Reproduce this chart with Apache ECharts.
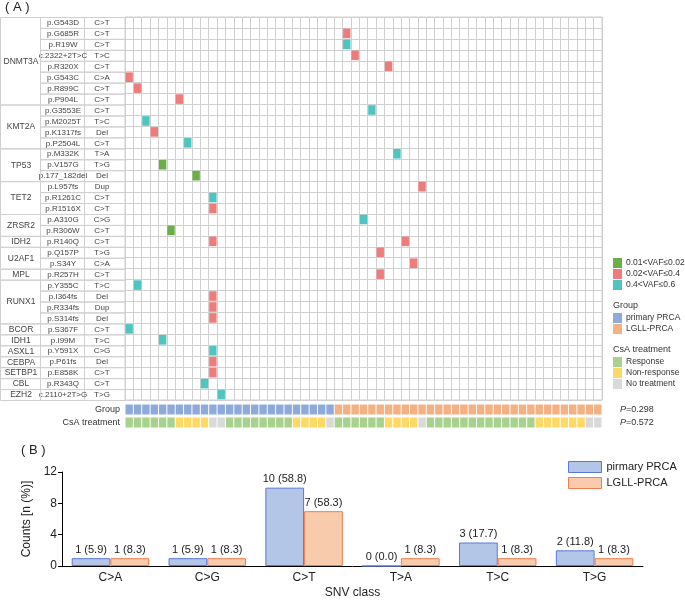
<!DOCTYPE html>
<html>
<head>
<meta charset="utf-8">
<script src="https://cdn.jsdelivr.net/npm/echarts@6/dist/echarts.min.js"></script>
<style>
  html, body { margin: 0; padding: 0; background: #fff; }
  #chart { width: 685px; height: 600px; }
</style>
</head>
<body>
<div id="chart"></div>
<script>
// ---- data ----
const genes = [["DNMT3A", 8], ["KMT2A", 4], ["TP53", 3], ["TET2", 3], ["ZRSR2", 2], ["IDH2", 1], ["U2AF1", 2], ["MPL", 1],
  ["RUNX1", 4], ["BCOR", 1], ["IDH1", 1], ["ASXL1", 1], ["CEBPA", 1], ["SETBP1", 1], ["CBL", 1], ["EZH2", 1]];
const mutations = ["p.G543D", "p.G685R", "p.R19W", "c.2322+2T>C", "p.R320X", "p.G543C", "p.R899C", "p.P904L",
  "p.G3553E", "p.M2025T", "p.K1317fs", "p.P2504L", "p.M332K", "p.V157G", "p.177_182del", "p.L957fs", "p.R1261C",
  "p.R1516X", "p.A310G", "p.R306W", "p.R140Q", "p.Q157P", "p.S34Y", "p.R257H", "p.Y355C", "p.I364fs", "p.R334fs",
  "p.S314fs", "p.S367F", "p.I99M", "p.Y591X", "p.P61fs", "p.E858K", "p.R343Q", "c.2110+2T>G"];
const mutTypes = ["C>T", "C>T", "C>T", "T>C", "C>T", "C>A", "C>T", "C>T", "C>T", "T>C", "Del", "C>T", "T>A", "T>G",
  "Del", "Dup", "C>T", "C>T", "C>G", "C>T", "C>T", "T>G", "C>A", "C>T", "T>C", "Del", "Dup", "Del", "C>T", "T>C",
  "C>G", "Del", "C>T", "C>T", "T>G"];
const patientCount = 57;

const vafLevels = ["0.01<VAF≤0.02", "0.02<VAF≤0.4", "0.4<VAF≤0.6"];
// [patient column, mutation row]
const lowVaf = [[4, 13], [8, 14], [5, 19]];
const midVaf = [[26, 1], [27, 3], [31, 4], [0, 5], [1, 6], [6, 7], [3, 10], [35, 15], [10, 17], [10, 20], [33, 20],
  [30, 21], [34, 22], [30, 23], [10, 25], [10, 26], [10, 27], [10, 31], [10, 32]];
const highVaf = [[26, 2], [29, 8], [2, 9], [7, 11], [32, 12], [10, 16], [28, 18], [1, 24], [0, 28], [4, 29],
  [10, 30], [9, 33], [11, 34]];

const groupNames = ["primary PRCA", "LGLL-PRCA"];
const groupRuns = [["primary PRCA", 25], ["LGLL-PRCA", 32]];
const csaNames = ["Response", "Non-response", "No treatment"];
const csaRuns = [["Response", 6], ["Non-response", 4], ["No treatment", 2], ["Response", 8], ["Non-response", 4],
  ["No treatment", 1], ["Response", 6], ["Non-response", 4], ["No treatment", 1], ["Response", 13],
  ["Non-response", 6], ["No treatment", 2]];
const stripRows = ["Group", "CsA treatment"];
const pValues = ["0.298", "0.572"];

const snvClasses = ["C>A", "C>G", "C>T", "T>A", "T>C", "T>G"];
const primaryCounts = [1, 1, 10, 0, 3, 2];
const primaryPct = ["5.9", "5.9", "58.8", "0.0", "17.7", "11.8"];
const lgllCounts = [1, 1, 7, 1, 1, 1];
const lgllPct = ["8.3", "8.3", "58.3", "8.3", "8.3", "8.3"];

// ---- helpers ----
const FONT = "Liberation Sans, Arial, sans-serif";
const patients = Array.from({ length: patientCount }, (_, i) => String(i + 1));
const rowIdx = mutations.map((_, i) => String(i));
const vafColors = ["#6aae45", "#f07b7b", "#4ec5c1"];
const groupColors = { "primary PRCA": "#8eaadb", "LGLL-PRCA": "#f4b183" };
const csaColors = { "Response": "#a9d18e", "Non-response": "#ffd966", "No treatment": "#d9d9d9" };
const primaryStyle = { color: "#b4c6e7", borderColor: "#5a78d6", borderWidth: 1 };
const lgllStyle = { color: "#f8cbad", borderColor: "#f07f4f", borderWidth: 1 };

function expandRuns(runs, row) {
  const out = {};
  let c = 0;
  runs.forEach(([name, n]) => {
    out[name] = out[name] || [];
    for (let k = 0; k < n; k++) out[name].push([c++, row]);
  });
  return out;
}
const groupCells = expandRuns(groupRuns, 0);
const csaCells = expandRuns(csaRuns, 1);

const geneStarts = [];
genes.reduce((s, g) => { geneStarts.push(s); return s + g[1]; }, 0);

const TABLE_W = 125, GENE_END = 40, MUT_END = 84;
const LINE = "#d0d0d0";

const cellSeries = (name, data, color) => ({
  name, type: "scatter", xAxisIndex: 0, yAxisIndex: 0, data,
  symbol: "rect", symbolSize: [7.4, 9.6], itemStyle: { color, opacity: 1 },
  emphasis: { disabled: true }, z: 5
});
const stripSeries = (name, data, color) => ({
  name, type: "scatter", xAxisIndex: 1, yAxisIndex: 1, data,
  symbol: "rect", symbolSize: [7.4, 10], itemStyle: { color, opacity: 1 },
  emphasis: { disabled: true }
});
const sideLegend = (data, top) => ({
  data, left: 613, top, orient: "vertical", icon: "rect", itemWidth: 9, itemHeight: 10,
  itemGap: 1, padding: 0, selectedMode: false,
  textStyle: { fontSize: 8.5, color: "#333", lineHeight: 10, padding: [0, 0, 0, -1] }
});

const myChart = echarts.init(document.querySelector("#chart"));
myChart.setOption({
  animation: false,
  textStyle: { fontFamily: FONT },
  grid: [
    { left: 125, top: 17, width: 477, height: 383, show: true, borderColor: LINE, borderWidth: 1 },
    { left: 125, top: 403, width: 477, height: 26 },
    { left: 0, top: 17, width: TABLE_W, height: 383 },
    { left: 62, top: 472, width: 581, height: 95 }
  ],
  xAxis: [
    { type: "category", gridIndex: 0, data: patients, axisLine: { show: false }, axisTick: { show: false },
      axisLabel: { show: false }, splitLine: { show: true, interval: 0, lineStyle: { color: LINE, width: 1 } } },
    { type: "category", gridIndex: 1, data: patients, show: false },
    { type: "value", gridIndex: 2, min: 0, max: TABLE_W, show: false },
    { type: "category", gridIndex: 3, data: snvClasses,
      axisLine: { lineStyle: { color: "#000", width: 1 } }, axisTick: { show: false },
      axisLabel: { color: "#222", fontSize: 12, margin: 6 },
      name: "SNV class", nameLocation: "middle", nameGap: 21, nameTextStyle: { color: "#222", fontSize: 12 } }
  ],
  yAxis: [
    { type: "category", gridIndex: 0, data: rowIdx, inverse: true, axisLine: { show: false },
      axisTick: { show: false }, axisLabel: { show: false },
      splitLine: { show: true, interval: 0, lineStyle: { color: LINE, width: 1 } } },
    { type: "category", gridIndex: 1, data: stripRows, inverse: true, axisLine: { show: false },
      axisTick: { show: false }, axisLabel: { color: "#333", fontSize: 9, margin: 5 } },
    { type: "category", gridIndex: 1, data: pValues, inverse: true, position: "right", axisLine: { show: false },
      axisTick: { show: false },
      axisLabel: { margin: 18, fontSize: 9, color: "#333", formatter: v => "{i|P}=" + v,
        rich: { i: { fontStyle: "italic", fontSize: 9, color: "#333" } } } },
    { type: "value", gridIndex: 2, min: 0, max: mutations.length, inverse: true, show: false },
    { type: "value", gridIndex: 3, min: 0, max: 12, interval: 4,
      axisLine: { show: true, lineStyle: { color: "#000", width: 1 } },
      axisTick: { show: true, length: 4, lineStyle: { color: "#000" } },
      axisLabel: { color: "#222", fontSize: 12, margin: 5 }, splitLine: { show: false },
      name: "Counts [n (%)]", nameLocation: "middle", nameGap: 22, nameTextStyle: { color: "#222", fontSize: 12 } }
  ],
  legend: [
    sideLegend(vafLevels, 258),
    sideLegend(groupNames, 313),
    sideLegend(csaNames, 357),
    { data: [{ name: "pirmary PRCA", itemStyle: primaryStyle }, { name: "LGLL-PRCA", itemStyle: lgllStyle }],
      left: 568, top: 461, orient: "vertical", icon: "rect",
      itemWidth: 33, itemHeight: 11, itemGap: 4, padding: 0, selectedMode: false,
      textStyle: { fontSize: 11, color: "#222" } }
  ],
  graphic: [
    { type: "text", left: 5, top: 1, style: { text: "( A )", fill: "#222", font: "13px " + FONT } },
    { type: "text", left: 21, top: 444, style: { text: "( B )", fill: "#222", font: "13px " + FONT } },
    { type: "text", left: 613, top: 301, style: { text: "Group", fill: "#333", font: "9px " + FONT } },
    { type: "text", left: 613, top: 345, style: { text: "CsA treatment", fill: "#333", font: "9px " + FONT } }
  ],
  series: [
    cellSeries(vafLevels[0], lowVaf, vafColors[0]),
    cellSeries(vafLevels[1], midVaf, vafColors[1]),
    cellSeries(vafLevels[2], highVaf, vafColors[2]),
    ...groupNames.map(g => stripSeries(g, groupCells[g], groupColors[g])),
    ...csaNames.map(c => stripSeries(c, csaCells[c], csaColors[c])),
    {
      type: "custom", xAxisIndex: 2, yAxisIndex: 3, silent: true,
      data: mutations.map((_, i) => [i]),
      renderItem: (params, api) => {
        const i = params.dataIndex;
        const a = api.coord([GENE_END, i]), m = api.coord([MUT_END, i + 1]), b = api.coord([TABLE_W, i + 1]);
        const y0 = a[1], y1 = m[1];
        const rs = { fill: "none", stroke: LINE, lineWidth: 1 };
        const ts = { fill: "#444", font: "8px " + FONT, align: "center", verticalAlign: "middle" };
        return { type: "group", children: [
          { type: "rect", shape: { x: a[0] + 0.5, y: y0 + 0.5, width: m[0] - a[0], height: y1 - y0 }, style: rs },
          { type: "rect", shape: { x: m[0] + 0.5, y: y0 + 0.5, width: b[0] - m[0], height: y1 - y0 }, style: rs },
          { type: "text", style: Object.assign({ text: mutations[i], x: (a[0] + m[0]) / 2 + 1, y: (y0 + y1) / 2 + 0.5 }, ts) },
          { type: "text", style: Object.assign({ text: mutTypes[i], x: m[0] + 18, y: (y0 + y1) / 2 + 0.5 }, ts) }
        ] };
      }
    },
    {
      type: "custom", xAxisIndex: 2, yAxisIndex: 3, silent: true,
      data: genes.map((_, i) => [i]),
      renderItem: (params, api) => {
        const i = params.dataIndex, s = geneStarts[i], n = genes[i][1];
        const a = api.coord([0, s]), b = api.coord([GENE_END, s + n]);
        return { type: "group", children: [
          { type: "rect", shape: { x: a[0] + 0.5, y: a[1] + 0.5, width: b[0] - a[0], height: b[1] - a[1] },
            style: { fill: "none", stroke: LINE, lineWidth: 1 } },
          { type: "text", style: { text: genes[i][0], x: (a[0] + b[0]) / 2 + 1, y: (a[1] + b[1]) / 2 + 0.5,
            fill: "#444", font: "8.5px " + FONT, align: "center", verticalAlign: "middle" } }
        ] };
      }
    },
    {
      name: "pirmary PRCA", type: "bar", xAxisIndex: 3, yAxisIndex: 4, data: primaryCounts,
      barWidth: "40%", barGap: "0%", itemStyle: primaryStyle,
      label: { show: true, position: "top", distance: 3, fontSize: 11, color: "#222",
        formatter: p => primaryCounts[p.dataIndex] + " (" + primaryPct[p.dataIndex] + ")" }
    },
    {
      name: "LGLL-PRCA", type: "bar", xAxisIndex: 3, yAxisIndex: 4, data: lgllCounts,
      barWidth: "40%", barGap: "0%", itemStyle: lgllStyle,
      label: { show: true, position: "top", distance: 3, fontSize: 11, color: "#222",
        formatter: p => lgllCounts[p.dataIndex] + " (" + lgllPct[p.dataIndex] + ")" }
    }
  ]
});
window.addEventListener("resize", () => myChart.resize());
</script>
</body>
</html>
